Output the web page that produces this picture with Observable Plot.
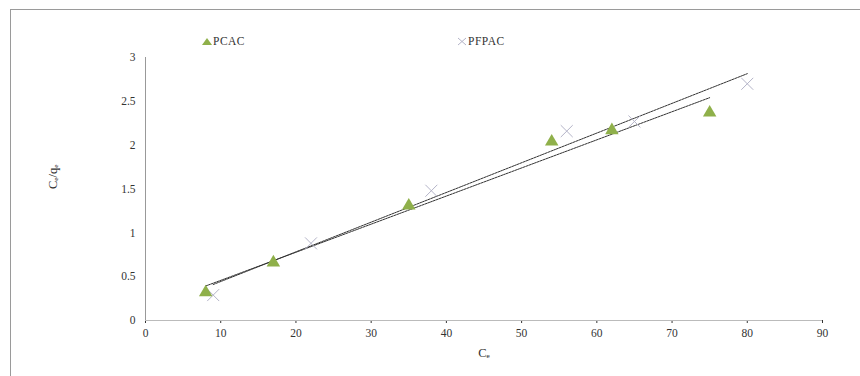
<!DOCTYPE html>
<html>
<head>
<meta charset="utf-8">
<script src="https://cdn.jsdelivr.net/npm/d3@7"></script>
<script src="https://cdn.jsdelivr.net/npm/@observablehq/plot@0.6"></script>
<style>
  html, body { margin: 0; padding: 0; background: #fff; }
  #wrap { position: relative; width: 860px; height: 376px; overflow: hidden; font-family: "Liberation Serif", serif; }
  #frame { position: absolute; left: 10px; top: 9px; width: 870px; height: 400px; border: 1.5px solid #9a9a9a; box-sizing: border-box; }
  .leg { position: absolute; top: 35px; font-size: 11.5px; color: #333; letter-spacing: 0.5px; display: flex; align-items: center; }
  #chart { position: absolute; left: 0; top: 0; }
</style>
</head>
<body>
<div id="wrap">
  <div id="frame"></div>
  <div id="chart"></div>
  <div class="leg" style="left:201px;"><svg width="12" height="10"><path d="M1,9 L6,2 L11,9 Z" fill="#8fb04a"/></svg>PCAC</div>
  <div class="leg" style="left:456px;"><svg width="12" height="10"><path d="M2,2 L10,9 M10,2 L2,9" stroke="#b4b4c8" stroke-width="1"/></svg>PFPAC</div>
</div>
<script>
const pcacX = [8, 17, 35, 54, 62, 75];
const pcacY = [0.32, 0.66, 1.31, 2.04, 2.17, 2.37];
const pfpacX = [9, 22, 38, 56, 65, 80];
const pfpacY = [0.29, 0.88, 1.48, 2.16, 2.27, 2.70];
const xTicks = [0, 10, 20, 30, 40, 50, 60, 70, 80, 90];
const yTicks = [0, 0.5, 1, 1.5, 2, 2.5, 3];
const xLabel = "Cₑ";
const yLabel = "Cₑ/qₑ";

const pcac = pcacX.map((x, i) => ({x, y: pcacY[i]}));
const pfpac = pfpacX.map((x, i) => ({x, y: pfpacY[i]}));

const plot = Plot.plot({
  width: 860,
  height: 376,
  marginLeft: 145,
  marginRight: 38,
  marginTop: 57,
  marginBottom: 56,
  style: { background: "transparent", fontFamily: "Liberation Serif, serif", fontSize: "11.5px", color: "#333" },
  x: { domain: [0, 90], ticks: xTicks, tickSize: 3, tickPadding: 5, label: null, tickFormat: d => String(d) },
  y: { domain: [0, 3], ticks: yTicks, tickSize: 0, tickPadding: 10, label: null, tickFormat: d => String(d) },
  marks: [
    Plot.ruleX([0], { stroke: "#999" }),
    Plot.ruleY([0], { stroke: "#bbb" }),
    Plot.text([xLabel], { frameAnchor: "bottom", dy: 36, text: d => d, fontSize: 12.5, fill: "#333" }),
    Plot.text([yLabel], { frameAnchor: "left", dx: -93, rotate: -90, text: d => d, fontSize: 12.5, fill: "#333" }),
    Plot.linearRegressionY(pfpac, { x: "x", y: "y", ci: 0, stroke: "#333", strokeWidth: 1, strokeDasharray: "2,1" }),
    Plot.linearRegressionY(pcac, { x: "x", y: "y", ci: 0, stroke: "#333", strokeWidth: 1, strokeDasharray: "2,1" }),
    Plot.dot(pfpac, { x: "x", y: "y", symbol: "times", r: 5.5, stroke: "#b4b4c8", strokeWidth: 1 }),
    Plot.dot(pcac, { x: "x", y: "y", symbol: "triangle", r: 5, fill: "#8fb04a", stroke: "none" })
  ]
});
document.getElementById("chart").appendChild(plot);
</script>
</body>
</html>
